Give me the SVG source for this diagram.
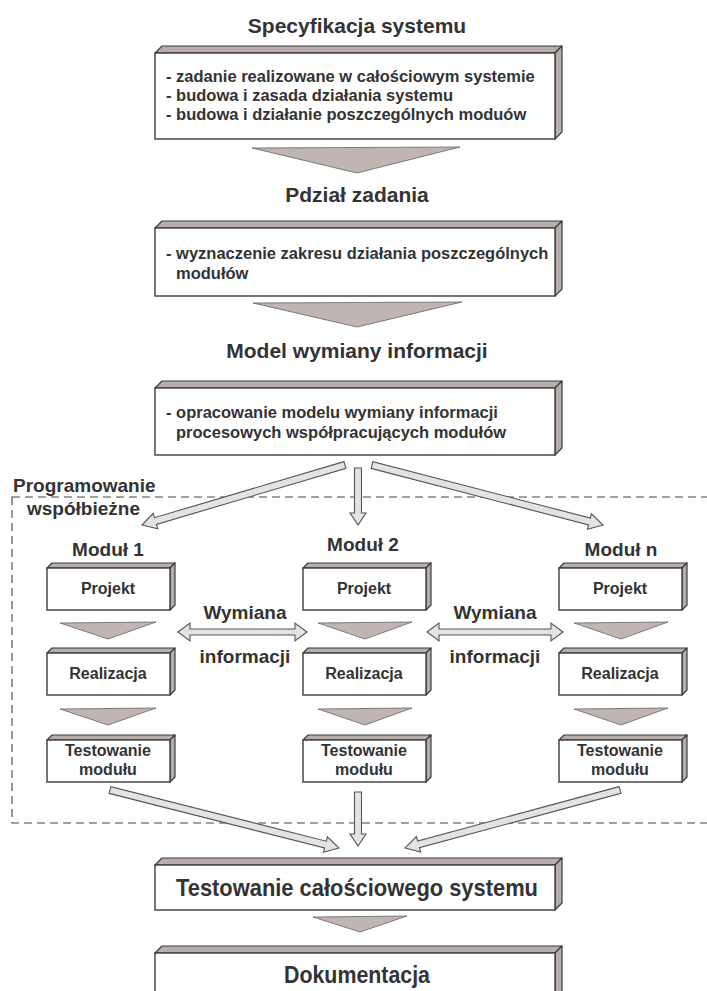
<svg xmlns="http://www.w3.org/2000/svg" width="707" height="991" viewBox="0 0 707 991">
<style>
text{font-family:"Liberation Sans",Arial,sans-serif;font-weight:bold;fill:#333}
.t{font-size:21px;text-anchor:middle}
.l{font-size:19px;text-anchor:middle}
.b{font-size:16.5px}
.m{font-size:16px;text-anchor:middle}
.big{font-size:24px;text-anchor:middle}
.front{fill:#fff;stroke:#3c3c3c;stroke-width:1.4}
.bev{fill:#b7adab;stroke:#3c3c3c;stroke-width:1.2;stroke-linejoin:round}
.tri{fill:#bfb5b2;stroke:#6a6262;stroke-width:0.8}
.arr{fill:#e6e2e1;stroke:#555;stroke-width:1.1;stroke-linejoin:miter}
.dash{fill:none;stroke:#444;stroke-width:1.1;stroke-dasharray:8,5}
</style>
<rect width="707" height="991" fill="#fff"/>

<g id="programowanie-frame">
<rect class="dash" x="12" y="497" width="705" height="326"/>
<text x="13" y="492" style="font-size:19px">Programowanie</text>
<text x="27" y="515" style="font-size:19px">współbieżne</text>
</g>

<g id="connectors">
<polygon class="tri" points="252,148 460,147 357,173"/>
<polygon class="tri" points="253,303 462,302 357,327"/>
<polygon class="arr" points="344.01,461.64 154.44,517.67 153.16,513.36 142,525 157.70,528.70 156.42,524.39 345.99,468.36"/>
<polygon class="arr" points="354.5,468 354.5,513 350,513 358,525 366,513 361.5,513 361.5,468"/>
<polygon class="arr" points="371.12,468.39 588.57,524.87 587.44,529.22 603,525 591.46,513.74 590.33,518.09 372.88,461.61"/>
<polygon class="tri" points="60,623 156,622 108,639"/>
<polygon class="tri" points="318,623 412,622 365,639"/>
<polygon class="tri" points="574,623 668,622 621,639"/>
<polygon class="tri" points="60,709 156,708 108,725"/>
<polygon class="tri" points="318,709 412,708 365,725"/>
<polygon class="tri" points="574,709 668,708 621,725"/>
<polygon class="arr" points="178,632 190,623 190,629 295,629 295,623 307,632 295,641 295,635 190,635 190,641"/>
<polygon class="arr" points="427,632 439,623 439,629 551,629 551,623 563,632 551,641 551,635 439,635 439,641"/>
<polygon class="arr" points="109.14,793.39 324.57,847.95 323.47,852.32 339,848 327.39,836.81 326.29,841.17 110.86,786.61"/>
<polygon class="arr" points="354.5,792 354.5,834 350,834 358,846 366,834 361.5,834 361.5,792"/>
<polygon class="arr" points="619.09,786.62 417.61,840.97 416.44,836.63 405,848 420.60,852.07 419.43,847.73 620.91,793.38"/>
<polygon class="tri" points="313,917 407,916 360,932"/>
</g>

<g id="specyfikacja">
<text class="t" x="357" y="33">Specyfikacja systemu</text>
<polygon class="bev" points="155,53 162,46 562,46 555,53"/>
<polygon class="bev" points="555,53 562,46 562,132 555,139"/>
<rect class="front" x="155" y="53" width="400" height="86"/>
<text class="b" x="166" y="82">- zadanie realizowane w całościowym systemie</text>
<text class="b" x="166" y="101">- budowa i zasada działania systemu</text>
<text class="b" x="166" y="120">- budowa i działanie poszczególnych moduów</text>
</g>

<g id="podzial">
<text class="t" x="357" y="202">Pdział zadania</text>
<polygon class="bev" points="155,228 162,221 562,221 555,228"/>
<polygon class="bev" points="555,228 562,221 562,289 555,296"/>
<rect class="front" x="155" y="228" width="400" height="68"/>
<text class="b" x="166" y="259">- wyznaczenie zakresu działania poszczególnych</text>
<text class="b" x="176" y="279">modułów</text>
</g>

<g id="model">
<text class="t" x="357" y="358">Model wymiany informacji</text>
<polygon class="bev" points="155,388 162,381 562,381 555,388"/>
<polygon class="bev" points="555,388 562,381 562,448 555,455"/>
<rect class="front" x="155" y="388" width="400" height="67"/>
<text class="b" x="166" y="418">- opracowanie modelu wymiany informacji</text>
<text class="b" x="176" y="438">procesowych współpracujących modułów</text>
</g>

<g id="modul1">
<text class="l" x="108" y="556">Moduł 1</text>
<polygon class="bev" points="47,568 52,563 175,563 170,568"/>
<polygon class="bev" points="170,568 175,563 175,605 170,610"/>
<rect class="front" x="47" y="568" width="123" height="42"/>
<text class="m" x="108" y="594">Projekt</text>
<polygon class="bev" points="47,653 52,648 175,648 170,653"/>
<polygon class="bev" points="170,653 175,648 175,690 170,695"/>
<rect class="front" x="47" y="653" width="123" height="42"/>
<text class="m" x="108" y="679">Realizacja</text>
<polygon class="bev" points="47,740 52,735 175,735 170,740"/>
<polygon class="bev" points="170,740 175,735 175,777 170,782"/>
<rect class="front" x="47" y="740" width="123" height="42"/>
<text class="m" x="108" y="756">Testowanie</text>
<text class="m" x="108" y="775">modułu</text>
</g>

<g id="modul2">
<text class="l" x="363" y="551">Moduł 2</text>
<polygon class="bev" points="303,568 308,563 431,563 426,568"/>
<polygon class="bev" points="426,568 431,563 431,605 426,610"/>
<rect class="front" x="303" y="568" width="123" height="42"/>
<text class="m" x="364" y="594">Projekt</text>
<polygon class="bev" points="303,653 308,648 431,648 426,653"/>
<polygon class="bev" points="426,653 431,648 431,690 426,695"/>
<rect class="front" x="303" y="653" width="123" height="42"/>
<text class="m" x="364" y="679">Realizacja</text>
<polygon class="bev" points="303,740 308,735 431,735 426,740"/>
<polygon class="bev" points="426,740 431,735 431,777 426,782"/>
<rect class="front" x="303" y="740" width="123" height="42"/>
<text class="m" x="364" y="756">Testowanie</text>
<text class="m" x="364" y="775">modułu</text>
</g>

<g id="modulN">
<text class="l" x="621" y="556">Moduł n</text>
<polygon class="bev" points="559,568 564,563 687,563 682,568"/>
<polygon class="bev" points="682,568 687,563 687,605 682,610"/>
<rect class="front" x="559" y="568" width="123" height="42"/>
<text class="m" x="620" y="594">Projekt</text>
<polygon class="bev" points="559,653 564,648 687,648 682,653"/>
<polygon class="bev" points="682,653 687,648 687,690 682,695"/>
<rect class="front" x="559" y="653" width="123" height="42"/>
<text class="m" x="620" y="679">Realizacja</text>
<polygon class="bev" points="559,740 564,735 687,735 682,740"/>
<polygon class="bev" points="682,740 687,735 687,777 682,782"/>
<rect class="front" x="559" y="740" width="123" height="42"/>
<text class="m" x="620" y="756">Testowanie</text>
<text class="m" x="620" y="775">modułu</text>
</g>

<g id="wymiana-labels">
<text class="l" x="245" y="619">Wymiana</text>
<text class="l" x="245" y="663">informacji</text>
<text class="l" x="495" y="619">Wymiana</text>
<text class="l" x="495" y="663">informacji</text>
</g>

<g id="testowanie-systemu">
<polygon class="bev" points="155,865 162,858 562,858 555,865"/>
<polygon class="bev" points="555,865 562,858 562,903 555,910"/>
<rect class="front" x="155" y="865" width="400" height="45"/>
<text class="big" x="357" y="896" textLength="362" lengthAdjust="spacingAndGlyphs">Testowanie całościowego systemu</text>
</g>

<g id="dokumentacja">
<polygon class="bev" points="155,953 162,946 562,946 555,953"/>
<polygon class="bev" points="555,953 562,946 562,1000 555,1000"/>
<rect class="front" x="155" y="953" width="400" height="60"/>
<text class="big" x="357" y="983" textLength="146" lengthAdjust="spacingAndGlyphs">Dokumentacja</text>
</g>
</svg>
